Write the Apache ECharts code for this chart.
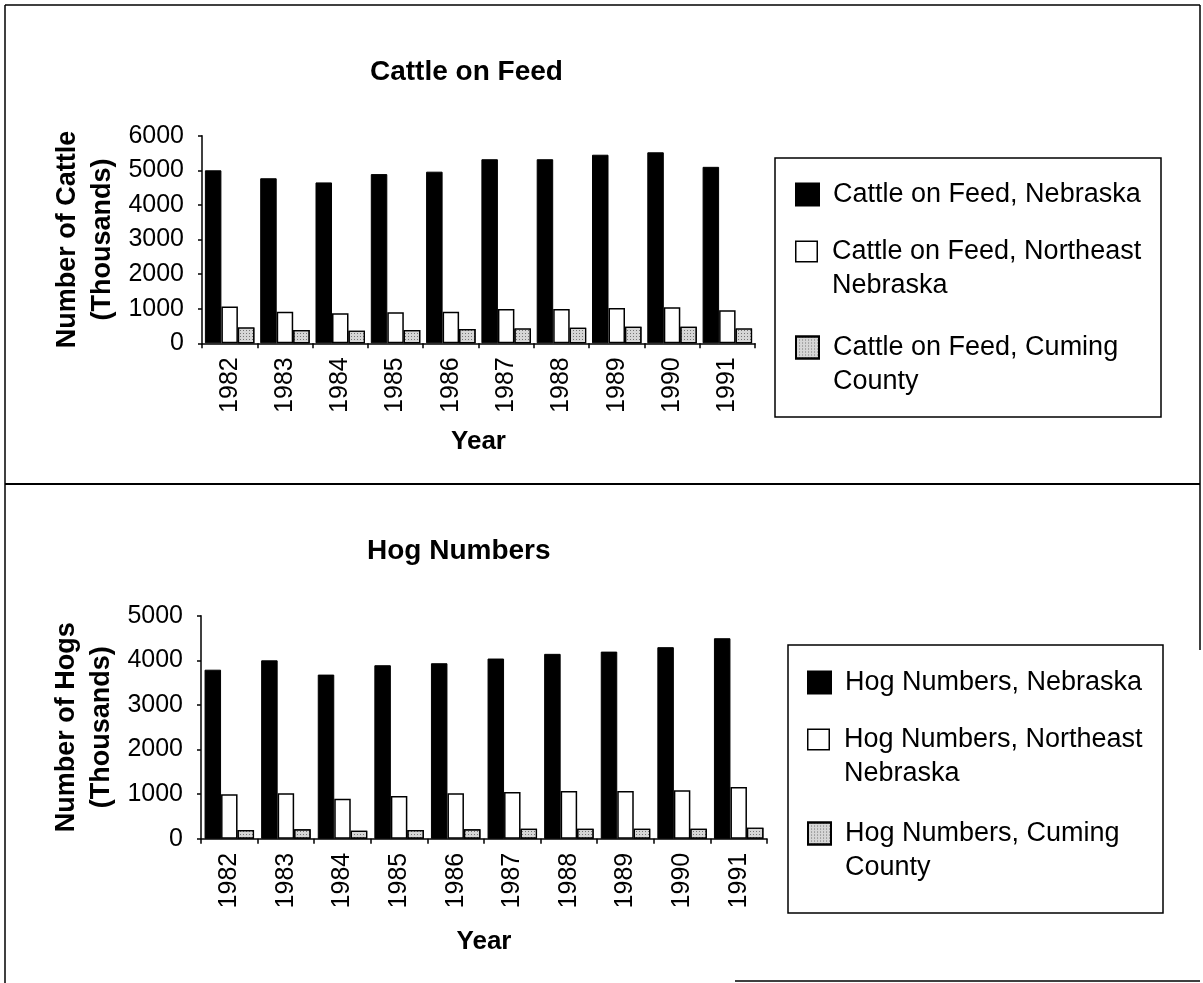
<!DOCTYPE html>
<html>
<head>
<meta charset="utf-8">
<script src="https://cdn.jsdelivr.net/npm/echarts@6/dist/echarts.min.js"></script>
<style>
html,body{margin:0;padding:0;background:#fff;}
#chart{width:1203px;height:983px;}
</style>
</head>
<body>
<div id="chart"></div>
<script>
// ---- data ----
const years = ['1982','1983','1984','1985','1986','1987','1988','1989','1990','1991'];
const cattleNebraska  = [5000, 4770, 4650, 4890, 4960, 5320, 5320, 5450, 5520, 5100];
const cattleNortheast = [1060, 915, 870, 900, 915, 990, 990, 1020, 1040, 955];
const cattleCuming    = [460, 385, 365, 385, 410, 430, 450, 480, 480, 430];
const hogNebraska  = [3790, 4000, 3680, 3890, 3935, 4040, 4145, 4195, 4295, 4495];
const hogNortheast = [1000, 1020, 900, 960, 1020, 1050, 1070, 1070, 1090, 1160];
const hogCuming    = [195, 215, 180, 195, 215, 225, 225, 225, 225, 250];
const cattleTicks = [0, 1000, 2000, 3000, 4000, 5000, 6000];
const hogTicks = [0, 1000, 2000, 3000, 4000, 5000];

const names = {
  cN: 'Cattle on Feed, Nebraska',
  cNE: 'Cattle on Feed, Northeast\nNebraska',
  cC: 'Cattle on Feed, Cuming\nCounty',
  hN: 'Hog Numbers, Nebraska',
  hNE: 'Hog Numbers, Northeast\nNebraska',
  hC: 'Hog Numbers, Cuming\nCounty'
};

const FONT = '"Liberation Sans", Arial, Helvetica, sans-serif';
const chart = echarts.init(document.getElementById('chart'), null, {renderer: 'canvas'});

const blackStyle = {color: '#000', borderColor: '#000', borderWidth: 1};
const whiteStyle = {color: '#fff', borderColor: '#000', borderWidth: 1.5};
const grayStyle = {
  color: '#d6d6d6', borderColor: '#000', borderWidth: 1.2,
  decal: {symbol: 'rect', symbolSize: 1, color: 'rgba(0,0,0,0.45)', dashArrayX: [1, 2], dashArrayY: [1, 2], rotation: 0}
};

function xAxis(gi, gap) {
  return {
    type: 'category', gridIndex: gi, data: years,
    name: 'Year', nameLocation: 'middle', nameGap: gap,
    nameTextStyle: {fontFamily: FONT, fontSize: 26, fontWeight: 'bold', color: '#000'},
    axisLine: {lineStyle: {color: '#000', width: 1.5}},
    axisTick: {show: true, length: 5, lineStyle: {color: '#000', width: 1.5}},
    axisLabel: {rotate: 90, fontFamily: FONT, fontSize: 25, color: '#000', margin: 14}
  };
}
function yAxis(gi, name, max, ticks) {
  return {
    type: 'value', gridIndex: gi, min: ticks[0], max: max, interval: 1000,
    name: name, nameLocation: 'middle', nameGap: 82,
    nameTextStyle: {fontFamily: FONT, fontSize: 27, fontWeight: 'bold', color: '#000', lineHeight: 35},
    axisLine: {show: true, lineStyle: {color: '#000', width: 1.5}},
    axisTick: {show: true, length: 4, lineStyle: {color: '#000', width: 1.5}},
    splitLine: {show: false},
    axisLabel: {fontFamily: FONT, fontSize: 25, color: '#000', margin: 18,
      formatter: function (v) { return String(v); }}
  };
}
function bar(name, data, gi, style) {
  return {
    name: name, type: 'bar', xAxisIndex: gi, yAxisIndex: gi, data: data,
    barWidth: 16.5, barGap: '0%', itemStyle: style, silent: true, animation: false
  };
}
const LH = 34;
// icon for two-line items: a 23x22 square at the top of a 23x56 box (trailing moveTo extends the box)
const SQ_TALL = 'path://M0,0L23,0L23,22L0,22ZM0,56';
const FRAME_TALL = 'path://M0,0L23,0L23,22L0,22ZM1.5,1.5L1.5,20.5L21.5,20.5L21.5,1.5ZM0,56';
function legendItem(name, left, top, kind, multi) {
  const item = {name: name, textStyle: {
    fontFamily: FONT, fontSize: 27, color: '#000', lineHeight: LH, padding: [0, 0, 0, 9]
  }};
  let h = 22;
  if (multi) {
    h = 56;
    if (kind === 'white') {
      item.icon = FRAME_TALL;
      item.itemStyle = {color: '#000', borderWidth: 0};
    } else {
      item.icon = SQ_TALL;
    }
  } else {
    item.icon = 'rect';
  }
  return {
    left: left, top: top, orient: 'vertical', padding: 0,
    itemWidth: 23, itemHeight: h, selectedMode: false, symbolKeepAspect: false,
    data: [item]
  };
}

const option = {
  backgroundColor: '#fff',
  animation: false,
  title: [
    {text: 'Cattle on Feed', left: 370, top: 58, padding: 0,
     textStyle: {fontFamily: FONT, fontSize: 28, fontWeight: 'bold', color: '#000'}},
    {text: 'Hog Numbers', left: 367, top: 537, padding: 0,
     textStyle: {fontFamily: FONT, fontSize: 28, fontWeight: 'bold', color: '#000'}}
  ],
  grid: [
    {left: 202, top: 135.7, width: 553, height: 207.6},
    {left: 201, top: 615.7, width: 566, height: 223.1}
  ],
  xAxis: [xAxis(0, 86), xAxis(1, 90)],
  yAxis: [
    yAxis(0, 'Number of Cattle\n(Thousands)', 6000, cattleTicks),
    yAxis(1, 'Number of Hogs\n(Thousands)', 5000, hogTicks)
  ],
  legend: [
    legendItem(names.cN, 795, 177.5, 'black', false),
    legendItem(names.cNE, 795, 234.5, 'white', true),
    legendItem(names.cC, 795, 330.5, 'gray', true),
    legendItem(names.hN, 807, 665.5, 'black', false),
    legendItem(names.hNE, 807, 722.5, 'white', true),
    legendItem(names.hC, 807, 816.5, 'gray', true)
  ],
  series: [
    bar(names.cN, cattleNebraska, 0, blackStyle),
    bar(names.cNE, cattleNortheast, 0, whiteStyle),
    bar(names.cC, cattleCuming, 0, grayStyle),
    bar(names.hN, hogNebraska, 1, blackStyle),
    bar(names.hNE, hogNortheast, 1, whiteStyle),
    bar(names.hC, hogCuming, 1, grayStyle)
  ],
  graphic: [
    {type: 'line', shape: {x1: 5, y1: 5, x2: 1200, y2: 5}, style: {stroke: '#000', lineWidth: 1.5}, silent: true},
    {type: 'line', shape: {x1: 5, y1: 5, x2: 5, y2: 983}, style: {stroke: '#000', lineWidth: 1.5}, silent: true},
    {type: 'line', shape: {x1: 1200, y1: 5, x2: 1200, y2: 650}, style: {stroke: '#000', lineWidth: 1.5}, silent: true},
    {type: 'line', shape: {x1: 5, y1: 484, x2: 1200, y2: 484}, style: {stroke: '#000', lineWidth: 2}, silent: true},
    {type: 'line', shape: {x1: 735, y1: 981, x2: 1200, y2: 981}, style: {stroke: '#000', lineWidth: 1.5}, silent: true},
    {type: 'rect', shape: {x: 775, y: 158, width: 386, height: 259}, style: {fill: 'none', stroke: '#000', lineWidth: 1.5}, silent: true, z: -1},
    {type: 'rect', shape: {x: 788, y: 645, width: 375, height: 268}, style: {fill: 'none', stroke: '#000', lineWidth: 1.5}, silent: true, z: -1}
  ]
};
chart.setOption(option);
</script>
</body>
</html>
